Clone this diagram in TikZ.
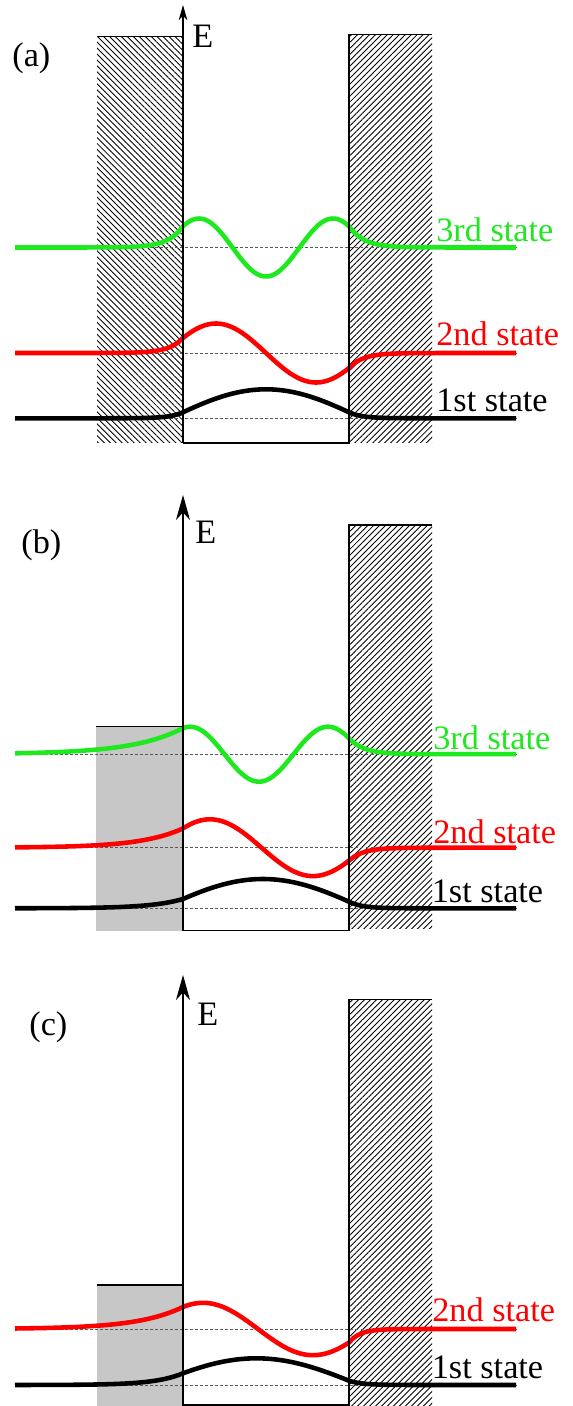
\documentclass[tikz,border=0pt]{standalone}
\usepackage{fontspec}
\setmainfont{Liberation Serif}
\usepackage{tikz}
\usetikzlibrary{arrows.meta,patterns.meta}
\definecolor{wavegreen}{RGB}{30,232,30}
\definecolor{wavered}{RGB}{255,0,0}

\begin{document}
\begin{tikzpicture}[
          x=0.02cm, y=-0.02cm,
          wall/.style={line width=0.6pt},
          hatchR/.style={pattern={Lines[angle=45,distance=2.4pt,line width=0.5pt]}},
          hatchL/.style={pattern={Lines[angle=-45,distance=2.4pt,line width=0.5pt]}},
          lowbar/.style={fill=black!22},
          level/.style={black!65, line width=0.4pt, dash pattern=on 1.7pt off 1.15pt},
          wave/.style={line width=2.6pt},
          lbl/.style={font=\fontsize{19.5}{22}\selectfont, inner sep=0pt, anchor=base west},
          axsmall/.style={-{Stealth[length=3mm,width=1.7mm,inset=0.8mm]}, line width=0.6pt},
          axbig/.style={-{Stealth[length=5mm,width=2.8mm,inset=1.5mm]}, line width=0.6pt}
      ]
        \useasboundingbox (0,0) rectangle (572,1406);

        % (a) two high barriers
        \fill[hatchL] (97,36.5) rectangle (183,442);
        \fill[hatchR] (349,34.5) rectangle (432,442);
        \draw[level] (15,247.5) -- (516,247.5);
        \draw[level] (15,353) -- (516,353);
        \draw[level] (15,418.3) -- (516,418.3);
        \draw[wave, wavegreen] plot[domain=15:183, samples=40] (\x,{247.5-21.2*exp((\x-183)/15)})
          -- plot[domain=183:349, samples=70] (\x,{247.5+29*cos(180/67*(\x-266))})
          -- plot[domain=349:516, samples=40] (\x,{247.5-21.2*exp((349-\x)/15)});
        \draw[wave, wavered] plot[domain=15:183, samples=40] (\x,{353-15*exp((\x-183)/14)})
          -- plot[domain=183:349, samples=70] (\x,{353+29.5*sin(180/100*(\x-266))})
          -- plot[domain=349:516, samples=40] (\x,{353+15*exp((349-\x)/14)});
        \draw[wave, black] plot[domain=15:183, samples=40] (\x,{418.3-6.03*exp((\x-183)/13)})
          -- plot[domain=183:349, samples=70] (\x,{418.3-29*cos(0.9402*(\x-266))})
          -- plot[domain=349:516, samples=40] (\x,{418.3-6.03*exp((349-\x)/13)});
        \draw[wall] (97,36.5) -- (183,36.5);
        \draw[wall] (183,443) -- (349,443) -- (349,34.5) -- (432,34.5);
        \coordinate (axAbot) at (183,443);
        \coordinate (axAtop) at (183,5);
        \draw[axsmall] (axAbot) -- (axAtop);
        \node[lbl] (tagA) at (12,67) {(a)};
        \node[lbl] (eA) at (192,48) {E};
        \node[lbl, text=wavegreen] (stA3) at (436,241.7) {3rd state};
        \node[lbl, text=wavered] (stA2) at (436,345.7) {2nd state};
        \node[lbl] (stA1) at (436,411.7) {1st state};

        % (b) lowered left barrier
        \fill[lowbar] (96,726.7) rectangle (183,930.7);
        \fill[hatchR] (349,525) rectangle (432,928);
        \draw[level] (15,754.2) -- (516,754.2);
        \draw[level] (15,847.7) -- (516,847.7);
        \draw[level] (15,908.3) -- (516,908.3);
        \draw[wave, wavegreen] plot[domain=15:183, samples=40] (\x,{754.2-26.1*exp((\x-183)/50)})
          -- plot[domain=183:349, samples=70] (\x,{754.2+27.5*cos(180/69*(\x-259))})
          -- plot[domain=349:516, samples=40] (\x,{754.2-15.85*exp((349-\x)/15)});
        \draw[wave, wavered] plot[domain=15:183, samples=40] (\x,{847.7-19.3*exp((\x-183)/42)})
          -- plot[domain=183:349, samples=70] (\x,{847.7+28.4*sin(180/103*(\x-261.5))})
          -- plot[domain=349:516, samples=40] (\x,{847.7+12.94*exp((349-\x)/14)});
        \draw[wave, black] plot[domain=15:183, samples=40] (\x,{908.3-9.32*exp((\x-183)/32)})
          -- plot[domain=183:349, samples=70] (\x,{908.3-29.3*cos(0.8944*(\x-262.9))})
          -- plot[domain=349:516, samples=40] (\x,{908.3-6.59*exp((349-\x)/13)});
        \draw[wall] (96,726.7) -- (183,726.7);
        \draw[wall] (183,930.7) -- (349,930.7) -- (349,525) -- (432,525);
        \coordinate (axBbot) at (183,930.7);
        \coordinate (axBtop) at (183,495);
        \draw[axbig] (axBbot) -- (axBtop);
        \node[lbl] (tagB) at (21,553) {(b)};
        \node[lbl] (eB) at (195,543) {E};
        \node[lbl, text=wavegreen] (stB3) at (433,749) {3rd state};
        \node[lbl, text=wavered] (stB2) at (433,843) {2nd state};
        \node[lbl] (stB1) at (431.5,902.7) {1st state};

        % (c) left barrier lowered further
        \fill[lowbar] (96.7,1285) rectangle (183,1406);
        \fill[hatchR] (349,999.3) rectangle (432,1406);
        \draw[level] (15,1329) -- (516,1329);
        \draw[level] (15,1385) -- (516,1385);
        \draw[wave, wavered] plot[domain=15:183, samples=40] (\x,{1329-22.05*exp((\x-183)/45)})
          -- plot[domain=183:349, samples=70] (\x,{1329+26.2*sin(180/110*(\x-258))})
          -- plot[domain=349:516, samples=40] (\x,{1329+13.53*exp((349-\x)/11)});
        \draw[wave, black] plot[domain=15:183, samples=40] (\x,{1385-11.7*exp((\x-183)/28)})
          -- plot[domain=183:349, samples=70] (\x,{1385-26.7*cos(0.872*(\x-256.4))})
          -- plot[domain=349:516, samples=40] (\x,{1385-4.29*exp((349-\x)/13)});
        \draw[wall] (96.7,1285) -- (183,1285);
        \draw[wall] (183,1405) -- (349,1405) -- (349,999.3) -- (432,999.3);
        \coordinate (axCbot) at (183,1406);
        \coordinate (axCtop) at (183,975);
        \draw[axbig] (axCbot) -- (axCtop);
        \node[lbl] (tagC) at (29,1035) {(c)};
        \node[lbl] (eC) at (197,1025) {E};
        \node[lbl, text=wavered] (stC2) at (432,1321.7) {2nd state};
        \node[lbl] (stC1) at (431.5,1378.3) {1st state};
      \end{tikzpicture}
\end{document}
